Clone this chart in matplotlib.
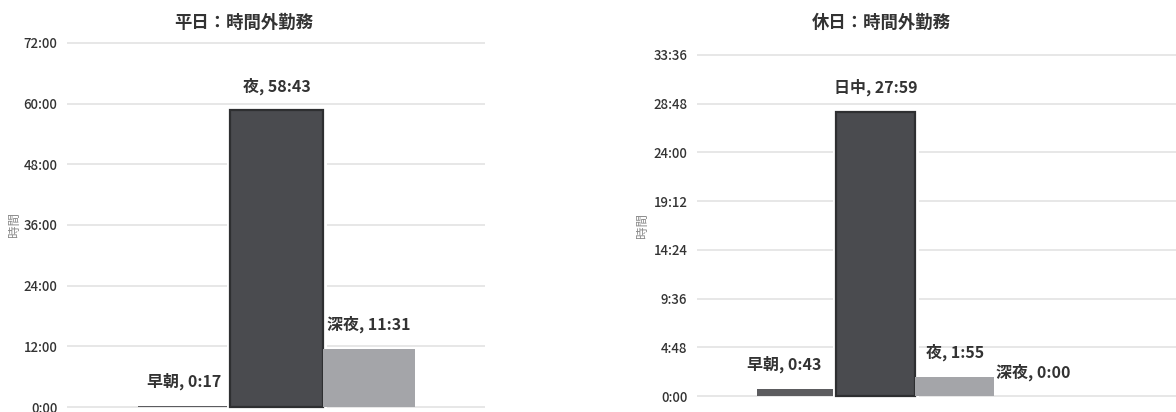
import matplotlib
matplotlib.use("Agg")
import matplotlib.pyplot as plt
from matplotlib.ticker import FixedLocator, FuncFormatter
import matplotlib.patheffects as pe

plt.rcParams['font.family'] = ['Noto Sans CJK JP', 'DejaVu Sans']

# 平日
weekday_title = "平日：時間外勤務"
weekday_cats = ["早朝", "夜", "深夜"]
weekday_hours = [0 + 17 / 60, 58 + 43 / 60, 11 + 31 / 60]
weekday_ticks = [0, 12, 24, 36, 48, 60, 72]

# 休日
holiday_title = "休日：時間外勤務"
holiday_cats = ["早朝", "日中", "夜", "深夜"]
holiday_hours = [0 + 43 / 60, 27 + 59 / 60, 1 + 55 / 60, 0.0]
holiday_ticks = [0, 4.8, 9.6, 14.4, 19.2, 24.0, 28.8, 33.6]

ylabel = "時間"

DARK = "#4a4b4f"
EDGE = "#2e2f31"
MID = "#5c5c5f"
LIGHT = "#a4a5a9"
TEXT = "#333333"


def hm(h, pos=None):
    total = int(round(h * 60))
    return f"{total // 60}:{total % 60:02d}"


W, H = 1176, 412
fig = plt.figure(figsize=(W / 100, H / 100), dpi=100)


def panel(rect, cats, hours, ticks, colors, edges, xlim, title, title_x, ylabel_x,
          label_dx):
    ax = fig.add_axes(rect)
    top = ticks[-1]
    pad = top * 0.004
    x = list(range(len(cats)))
    bars = ax.bar(x, hours, width=1.0, color=colors, edgecolor=edges,
                  linewidth=[1.6 if e != 'none' else 0 for e in edges], zorder=3)
    for b, e in zip(bars, edges):
        if e != 'none':
            b.set_path_effects([pe.Stroke(linewidth=5, foreground='white'), pe.Normal()])
    ax.set_xlim(*xlim)
    ax.set_ylim(-pad, top + pad)
    ax.yaxis.set_major_locator(FixedLocator(ticks))
    ax.yaxis.set_major_formatter(FuncFormatter(hm))
    ax.tick_params(axis='y', length=0, pad=7, labelsize=9.5, labelcolor=TEXT)
    for t in ax.get_yticklabels():
        t.set_fontweight('medium')
    ax.set_xticks([])
    ax.grid(axis='y', color='#e0e0e0', linewidth=1.1, zorder=0)
    for s in ax.spines.values():
        s.set_visible(False)
    for xi, (c, h, dx) in enumerate(zip(cats, hours, label_dx)):
        ax.annotate(f"{c}, {hm(h)}", xy=(xi, h), xytext=(dx, 17.5),
                    textcoords='offset points', ha='center', va='center',
                    fontsize=11.5, fontweight='bold', color=TEXT, zorder=5)
    fig.text(title_x / W, 1 - 23 / H, title, ha='center', va='center',
             fontsize=12.5, fontweight='bold', color=TEXT)
    mid_y = rect[1] + rect[3] / 2
    fig.text(ylabel_x / W, mid_y, ylabel, rotation=90, ha='center', va='center',
             fontsize=9, color='#8a8a8a')
    return ax


# weekday panel: axis spans x 67..485, y 408..42
panel([67 / W, 1 - 408.5 / H, (485 - 67) / W, (408.5 - 41.5) / H],
      weekday_cats, weekday_hours, weekday_ticks,
      [MID, DARK, LIGHT], ['none', EDGE, 'none'],
      (-1.272, 3.261), weekday_title, 244, 14, [0, 0, 0])

# holiday panel: axis spans x 697..right edge, y 397..54
panel([697 / W, 1 - 397.5 / H, (W - 697) / W, (397.5 - 53.5) / H],
      holiday_cats, holiday_hours, holiday_ticks,
      [MID, DARK, LIGHT, LIGHT], ['none', EDGE, 'none', 'none'],
      (-1.26, 4.8), holiday_title, 881, 642, [-9, 0, 0, 0])

fig.savefig("out.png", dpi=100, facecolor='white')
